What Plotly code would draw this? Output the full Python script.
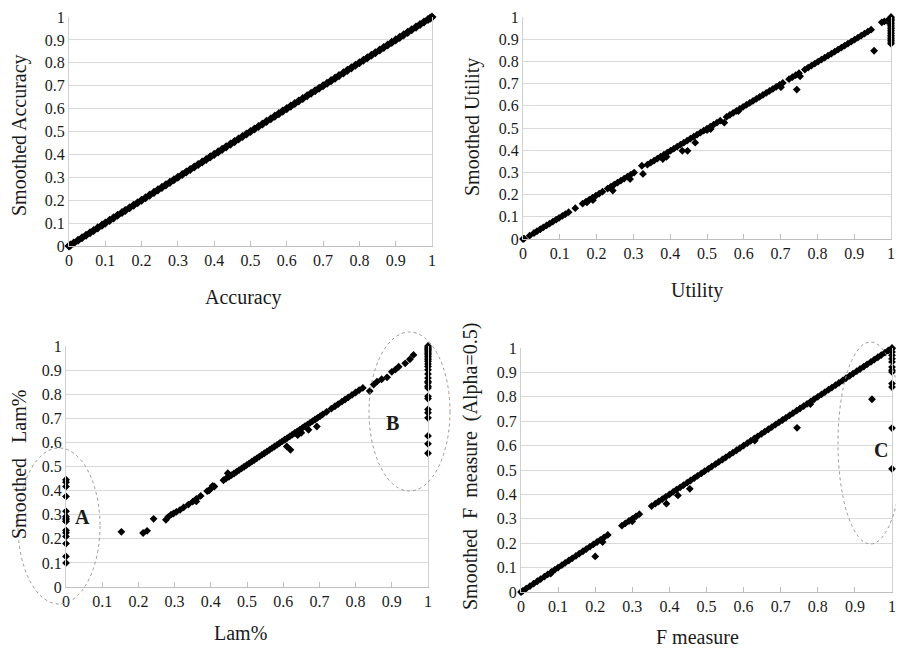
import plotly.graph_objects as go

# The page body has an 8px margin, so the figure is drawn 8px smaller and offset.
OFF = 8
W, H = 904 - OFF, 649 - OFF

# ---------------- data ----------------
accuracy = [0.0, 0.004, 0.013, 0.025, 0.036, 0.047, 0.058, 0.068, 0.079, 0.091, 0.1, 0.112, 0.123, 0.134,
            0.146, 0.155, 0.167, 0.178, 0.189, 0.2, 0.211, 0.222, 0.234, 0.245, 0.256, 0.267, 0.278, 0.289,
            0.3, 0.312, 0.323, 0.334, 0.345, 0.356, 0.367, 0.378, 0.389, 0.4, 0.411, 0.422, 0.433, 0.445,
            0.456, 0.467, 0.478, 0.489, 0.5, 0.511, 0.522, 0.533, 0.544, 0.556, 0.567, 0.578, 0.589, 0.6,
            0.611, 0.622, 0.633, 0.644, 0.656, 0.667, 0.678, 0.689, 0.7, 0.711, 0.722, 0.733, 0.744, 0.756,
            0.767, 0.778, 0.789, 0.8, 0.811, 0.822, 0.833, 0.844, 0.856, 0.867, 0.878, 0.889, 0.9, 0.911,
            0.922, 0.933, 0.944, 0.956, 0.967, 0.978, 0.989, 0.995, 1.0]
smoothed_accuracy = [0.0, 0.004, 0.013, 0.025, 0.036, 0.047, 0.058, 0.068, 0.079, 0.091, 0.1, 0.112, 0.123, 0.134,
                     0.146, 0.155, 0.167, 0.178, 0.189, 0.2, 0.211, 0.222, 0.234, 0.245, 0.256, 0.267, 0.278, 0.289,
                     0.3, 0.312, 0.323, 0.334, 0.345, 0.356, 0.367, 0.378, 0.389, 0.4, 0.411, 0.422, 0.433, 0.445,
                     0.456, 0.467, 0.478, 0.489, 0.5, 0.511, 0.522, 0.533, 0.544, 0.556, 0.567, 0.578, 0.589, 0.6,
                     0.611, 0.622, 0.633, 0.644, 0.656, 0.667, 0.678, 0.689, 0.7, 0.711, 0.722, 0.733, 0.744, 0.756,
                     0.767, 0.778, 0.789, 0.8, 0.811, 0.822, 0.833, 0.844, 0.856, 0.867, 0.878, 0.889, 0.9, 0.911,
                     0.922, 0.933, 0.944, 0.956, 0.967, 0.978, 0.989, 0.995, 1.0]

utility = [0.0, 0.003, 0.018, 0.03, 0.038, 0.047, 0.055, 0.064, 0.072, 0.081, 0.09, 0.098, 0.107, 0.115,
           0.124, 0.142, 0.162, 0.171, 0.18, 0.189, 0.198, 0.207, 0.216, 0.23, 0.239, 0.248, 0.257, 0.266,
           0.275, 0.284, 0.293, 0.302, 0.338, 0.347, 0.356, 0.365, 0.374, 0.383, 0.392, 0.401, 0.41, 0.419,
           0.428, 0.437, 0.446, 0.455, 0.464, 0.473, 0.482, 0.491, 0.5, 0.509, 0.518, 0.527, 0.536, 0.553,
           0.562, 0.571, 0.58, 0.589, 0.598, 0.607, 0.616, 0.625, 0.634, 0.643, 0.652, 0.661, 0.67, 0.679,
           0.688, 0.697, 0.706, 0.723, 0.732, 0.741, 0.75, 0.766, 0.775, 0.784, 0.793, 0.802, 0.811, 0.82,
           0.829, 0.838, 0.847, 0.856, 0.865, 0.874, 0.883, 0.892, 0.901, 0.91, 0.919, 0.928, 0.937, 0.946,
           0.954, 0.744, 0.701, 0.753, 0.433, 0.447, 0.468, 0.547, 0.585, 0.326, 0.323, 0.291, 0.244, 0.174,
           0.19, 0.38, 0.39, 0.5, 0.51, 0.975, 0.982, 0.99, 0.997,
           1.0, 1.0, 1.0, 1.0, 1.0, 1.0, 1.0, 1.0, 1.0, 1.0, 1.0, 1.0, 1.0, 1.0, 1.0, 1.0, 1.0, 1.0]
smoothed_utility = [0.0, 0.002, 0.015, 0.027, 0.035, 0.044, 0.052, 0.061, 0.069, 0.078, 0.087, 0.095, 0.104, 0.112,
                    0.121, 0.139, 0.159, 0.168, 0.177, 0.186, 0.195, 0.204, 0.213, 0.227, 0.236, 0.245, 0.254, 0.263,
                    0.272, 0.281, 0.29, 0.299, 0.335, 0.344, 0.353, 0.362, 0.371, 0.38, 0.389, 0.398, 0.407, 0.416,
                    0.425, 0.434, 0.443, 0.452, 0.461, 0.47, 0.479, 0.488, 0.497, 0.506, 0.515, 0.524, 0.533, 0.55,
                    0.559, 0.568, 0.577, 0.586, 0.595, 0.604, 0.613, 0.622, 0.631, 0.64, 0.649, 0.658, 0.667, 0.676,
                    0.685, 0.694, 0.703, 0.72, 0.729, 0.738, 0.747, 0.763, 0.772, 0.781, 0.79, 0.799, 0.808, 0.817,
                    0.826, 0.835, 0.844, 0.853, 0.862, 0.871, 0.88, 0.889, 0.898, 0.907, 0.916, 0.925, 0.934, 0.943,
                    0.848, 0.673, 0.684, 0.733, 0.397, 0.397, 0.434, 0.524, 0.576, 0.293, 0.33, 0.27, 0.218, 0.165,
                    0.175, 0.36, 0.37, 0.49, 0.495, 0.976, 0.98, 0.982, 0.985,
                    1.0, 0.995, 0.99, 0.985, 0.978, 0.97, 0.962, 0.955, 0.948, 0.94, 0.932, 0.925, 0.917, 0.91,
                    0.902, 0.895, 0.887, 0.88]

lam = [0.0, 0.0, 0.0, 0.0, 0.0, 0.0, 0.0, 0.0, 0.0, 0.0, 0.0, 0.0, 0.0, 0.0, 0.0,
       0.153, 0.213, 0.224, 0.242, 0.276, 0.282, 0.29, 0.297, 0.305, 0.315, 0.325, 0.338, 0.35, 0.36,
       0.372, 0.39, 0.4, 0.41, 0.435, 0.442, 0.45, 0.457, 0.464, 0.471, 0.478, 0.485, 0.492, 0.499,
       0.506, 0.513, 0.52, 0.527, 0.534, 0.541, 0.548, 0.555, 0.562, 0.569, 0.576, 0.583, 0.59, 0.597,
       0.604, 0.611, 0.618, 0.625, 0.632, 0.639, 0.646, 0.653, 0.66, 0.667, 0.674, 0.681, 0.688, 0.695,
       0.702, 0.709, 0.72, 0.733, 0.743, 0.752, 0.762, 0.771, 0.78, 0.79, 0.8, 0.81, 0.82,
       0.447, 0.62, 0.61, 0.693, 0.67, 0.64, 0.65, 0.36, 0.395, 0.405,
       0.839, 0.85, 0.859, 0.872, 0.887, 0.9, 0.91, 0.919, 0.937, 0.95, 0.96,
       1.0, 1.0, 1.0, 1.0, 1.0, 1.0, 1.0, 1.0, 1.0, 1.0, 1.0, 1.0, 1.0, 1.0, 1.0, 1.0, 1.0, 1.0, 1.0,
       1.0, 1.0, 1.0, 1.0, 1.0, 1.0, 1.0, 1.0, 1.0, 1.0]
smoothed_lam = [0.445, 0.435, 0.417, 0.376, 0.314, 0.293, 0.285, 0.279, 0.272, 0.235, 0.225, 0.21, 0.18, 0.127, 0.1,
                0.229, 0.224, 0.233, 0.283, 0.279, 0.29, 0.3, 0.305, 0.312, 0.32, 0.33, 0.342, 0.354, 0.366,
                0.378, 0.398, 0.408, 0.417, 0.443, 0.45, 0.457, 0.464, 0.471, 0.478, 0.485, 0.492, 0.499, 0.506,
                0.513, 0.52, 0.527, 0.534, 0.541, 0.548, 0.555, 0.562, 0.569, 0.576, 0.583, 0.59, 0.597, 0.604,
                0.611, 0.618, 0.625, 0.632, 0.639, 0.646, 0.653, 0.66, 0.667, 0.674, 0.681, 0.688, 0.695, 0.702,
                0.709, 0.716, 0.727, 0.74, 0.75, 0.759, 0.769, 0.778, 0.787, 0.797, 0.807, 0.817, 0.826,
                0.472, 0.569, 0.583, 0.666, 0.652, 0.63, 0.64, 0.355, 0.4, 0.42,
                0.813, 0.84, 0.852, 0.862, 0.87, 0.893, 0.902, 0.914, 0.928, 0.945, 0.963,
                1.0, 0.995, 0.99, 0.985, 0.98, 0.975, 0.97, 0.964, 0.957, 0.95, 0.943, 0.936, 0.925, 0.915,
                0.901, 0.884, 0.867, 0.853, 0.847, 0.833, 0.826, 0.791, 0.782, 0.737, 0.723, 0.702, 0.627,
                0.594, 0.555]

f_measure = [0.0, 0.005, 0.014, 0.024, 0.034, 0.044, 0.053, 0.063, 0.072, 0.082, 0.091, 0.1, 0.11, 0.119,
             0.129, 0.138, 0.148, 0.157, 0.167, 0.176, 0.186, 0.195, 0.205, 0.214, 0.224, 0.234, 0.272, 0.281,
             0.291, 0.3, 0.31, 0.319, 0.352, 0.362, 0.371, 0.381, 0.39, 0.4, 0.41, 0.419, 0.429, 0.438, 0.448,
             0.457, 0.467, 0.476, 0.486, 0.495, 0.505, 0.514, 0.524, 0.533, 0.543, 0.552, 0.562, 0.571, 0.581,
             0.59, 0.6, 0.61, 0.619, 0.629, 0.638, 0.648, 0.657, 0.667, 0.676, 0.686, 0.695, 0.705, 0.714,
             0.724, 0.733, 0.743, 0.752, 0.762, 0.771, 0.781, 0.79, 0.8, 0.81, 0.819, 0.829, 0.838, 0.848,
             0.857, 0.867, 0.876, 0.886, 0.895, 0.905, 0.914, 0.924, 0.933, 0.943, 0.952, 0.962, 0.971, 0.981,
             0.99, 1.0,
             0.2, 0.392, 0.423, 0.455, 0.744, 0.946, 0.08, 0.22, 0.3, 0.63, 0.78,
             1.0, 1.0, 1.0, 1.0, 1.0, 1.0, 1.0, 1.0, 1.0, 1.0, 1.0, 1.0]
smoothed_f_measure = [0.0, 0.005, 0.014, 0.024, 0.034, 0.044, 0.053, 0.063, 0.072, 0.082, 0.091, 0.1, 0.11, 0.119,
                      0.129, 0.138, 0.148, 0.157, 0.167, 0.176, 0.186, 0.195, 0.205, 0.214, 0.224, 0.234, 0.272,
                      0.281, 0.291, 0.3, 0.31, 0.319, 0.352, 0.362, 0.371, 0.381, 0.39, 0.4, 0.41, 0.419, 0.429,
                      0.438, 0.448, 0.457, 0.467, 0.476, 0.486, 0.495, 0.505, 0.514, 0.524, 0.533, 0.543, 0.552,
                      0.562, 0.571, 0.581, 0.59, 0.6, 0.61, 0.619, 0.629, 0.638, 0.648, 0.657, 0.667, 0.676, 0.686,
                      0.695, 0.705, 0.714, 0.724, 0.733, 0.743, 0.752, 0.762, 0.771, 0.781, 0.79, 0.8, 0.81, 0.819,
                      0.829, 0.838, 0.848, 0.857, 0.867, 0.876, 0.886, 0.895, 0.905, 0.914, 0.924, 0.933, 0.943,
                      0.952, 0.962, 0.971, 0.981, 0.99, 1.0,
                      0.146, 0.362, 0.396, 0.423, 0.673, 0.79, 0.075, 0.205, 0.29, 0.62, 0.77,
                      0.997, 0.984, 0.97, 0.956, 0.943, 0.922, 0.909, 0.902, 0.854, 0.84, 0.672, 0.505]

tick_vals = [0, 0.1, 0.2, 0.3, 0.4, 0.5, 0.6, 0.7, 0.8, 0.9, 1]
tick_text = ["0", "0.1", "0.2", "0.3", "0.4", "0.5", "0.6", "0.7", "0.8", "0.9", "1"]

NB = "\u00a0"
x_titles = ["Accuracy", "Utility", "Lam%", "F measure"]
y_titles = ["Smoothed Accuracy", "Smoothed Utility",
            "Smoothed" + NB * 3 + "Lam%",
            "Smoothed" + NB * 2 + "F" + NB * 2 + "measure" + NB * 2 + "(Alpha=0.5)"]

# ---------------- layout helpers (screen pixel -> paper) ----------------
def px(x):
    return (x - OFF) / W

def py(y):
    return 1 - (y - OFF) / H

# panel pixel boxes: (x0, x1, ytop, ybottom)
boxes = [(69, 432, 17, 246), (523, 891, 17, 239), (66, 428, 346, 587), (521, 892, 348, 592)]
series = [(accuracy, smoothed_accuracy), (utility, smoothed_utility), (lam, smoothed_lam),
          (f_measure, smoothed_f_measure)]
marker_sizes = [7, 6, 6, 6]
xtitle_pos = [(243, 297), (697, 290), (240, 633), (697, 637)]
ytitle_pos = [(19, 135), (473, 127), (19, 465), (470, 467)]

FONT = "Liberation Serif"
fig = go.Figure()
annotations = []
for i, (box, (xs, ys)) in enumerate(zip(boxes, series)):
    n = "" if i == 0 else str(i + 1)
    fig.add_trace(go.Scatter(x=xs, y=ys, mode="markers", xaxis="x" + n, yaxis="y" + n,
                             marker=dict(symbol="diamond", size=marker_sizes[i], color="black"),
                             cliponaxis=False, showlegend=False, hoverinfo="x+y"))
    x0, x1, yt, yb = box
    fig.update_layout(**{
        "xaxis" + n: dict(domain=[px(x0), px(x1)], range=[0, 1], anchor="y" + n,
                          tickvals=tick_vals, ticktext=tick_text, showgrid=False, zeroline=False,
                          showline=True, linecolor="#bfbfbf", linewidth=1,
                          ticks="inside", ticklen=5, tickcolor="#bfbfbf", automargin=False,
                          ticklabeloverflow="allow",
                          tickfont=dict(family=FONT, size=16, color="#1a1a1a")),
        "yaxis" + n: dict(domain=[py(yb), py(yt)], range=[0, 1], anchor="x" + n,
                          tickvals=tick_vals, ticktext=tick_text, showgrid=True, gridcolor="#d9d9d9",
                          gridwidth=1, zeroline=False, showline=True, mirror=True,
                          linecolor="#d0d0d0", linewidth=1, ticks="", automargin=False,
                          ticklabeloverflow="allow",
                          tickfont=dict(family=FONT, size=16, color="#1a1a1a")),
    })
    tx, ty = xtitle_pos[i]
    annotations.append(dict(text=x_titles[i], x=px(tx), y=py(ty), xref="paper", yref="paper",
                            showarrow=False, xanchor="center", yanchor="middle",
                            font=dict(family=FONT, size=20, color="#1a1a1a")))
    ax, ay = ytitle_pos[i]
    annotations.append(dict(text=y_titles[i], x=px(ax), y=py(ay), xref="paper", yref="paper",
                            showarrow=False, xanchor="center", yanchor="middle", textangle=-90,
                            font=dict(family=FONT, size=20, color="#1a1a1a")))

# ellipses (screen pixel boxes) and labels
ellipses = [(18, 100, 448, 604), (369, 450, 332, 491), (838, 903, 342, 544)]
shapes = []
for (ex0, ex1, ey0, ey1) in ellipses:
    shapes.append(dict(type="circle", xref="paper", yref="paper",
                       x0=px(ex0), x1=px(ex1), y0=py(ey1), y1=py(ey0),
                       line=dict(color="#999999", width=1, dash="dot"), layer="above"))
labels = [("A", 82, 517), ("B", 392, 423), ("C", 881, 450)]
for t, lx, ly in labels:
    annotations.append(dict(text="<b>" + t + "</b>", x=px(lx), y=py(ly), xref="paper", yref="paper",
                            showarrow=False, xanchor="center", yanchor="middle",
                            font=dict(family=FONT, size=20, color="#1a1a1a")))

fig.update_layout(width=W, height=H, margin=dict(l=0, r=0, t=0, b=0),
                  paper_bgcolor="white", plot_bgcolor="white",
                  annotations=annotations, shapes=shapes)

fig.write_html("out.html")
